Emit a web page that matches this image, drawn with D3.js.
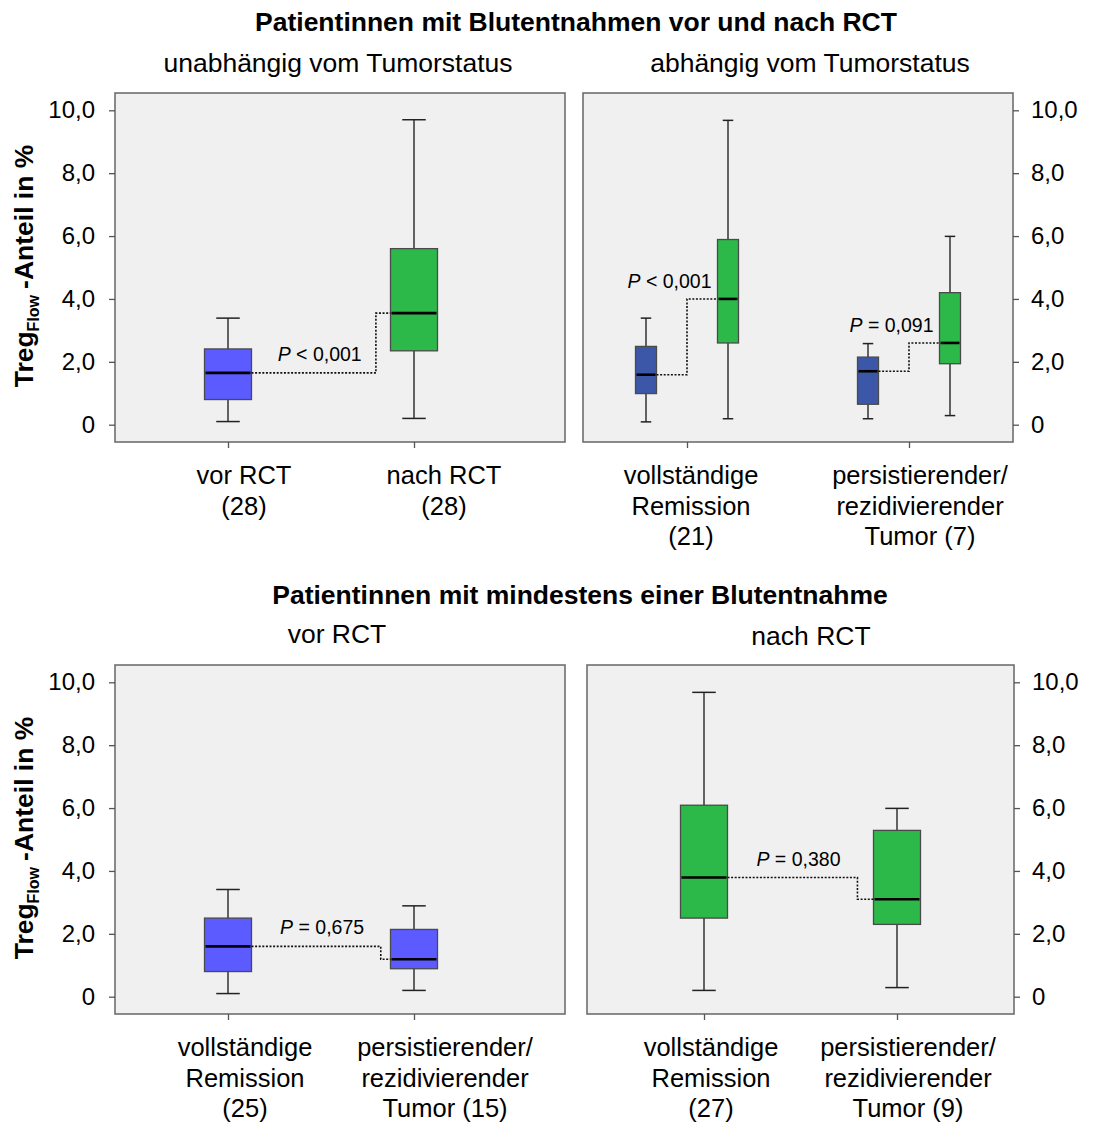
<!DOCTYPE html>
<html>
<head>
<meta charset="utf-8">
<script src="https://cdn.jsdelivr.net/npm/d3@7"></script>
<style>
body { margin: 0; background: #fff; }
text { font-family: "Liberation Sans", Arial, sans-serif; fill: #000; }
</style>
</head>
<body>
<div id="chart"></div>
<script>
var w = 1100,
    h = 1122;

// y axis
var yTicks = [0, 2, 4, 6, 8, 10];
var yTickLabels = ["0", "2,0", "4,0", "6,0", "8,0", "10,0"];

// box stats: [lower whisker, Q1, median, Q3, upper whisker]
// panel 1: vor / nach RCT, independent of tumour status
var p1Labels = [["vor RCT", "(28)"], ["nach RCT", "(28)"]];
var p1Stats = [[0.10, 0.80, 1.65, 2.41, 3.39], [0.20, 2.35, 3.55, 5.60, 9.70]];
var p1P = ["< 0,001"];

// panel 2: by tumour status, vor and nach RCT
var p2Labels = [["vollständige", "Remission", "(21)"], ["persistierender/", "rezidivierender", "Tumor (7)"]];
var p2Vor = [[0.09, 0.99, 1.59, 2.49, 3.39], [0.19, 0.65, 1.70, 2.15, 2.58]];
var p2Nach = [[0.19, 2.60, 4.00, 5.89, 9.68], [0.29, 1.94, 2.60, 4.20, 5.99]];
var p2P = ["< 0,001", "= 0,091"];

// panel 3: at least one sample, vor RCT
var p3Labels = [["vollständige", "Remission", "(25)"], ["persistierender/", "rezidivierender", "Tumor (15)"]];
var p3Stats = [[0.10, 0.80, 1.60, 2.50, 3.41], [0.20, 0.89, 1.19, 2.14, 2.89]];
var p3P = ["= 0,675"];

// panel 4: at least one sample, nach RCT
var p4Labels = [["vollständige", "Remission", "(27)"], ["persistierender/", "rezidivierender", "Tumor (9)"]];
var p4Stats = [[0.20, 2.50, 3.79, 6.09, 9.68], [0.29, 2.30, 3.10, 5.29, 5.99]];
var p4P = ["= 0,380"];

var blue = "#5b5bff",
    darkBlue = "#3d57a8",
    green = "#2db84a";

var svg = d3.select("#chart")
    .append("svg")
    .attr("width", w)
    .attr("height", h);

// titles
function title(x, y, txt, bold) {
    svg.append("text")
        .attr("x", x).attr("y", y)
        .attr("text-anchor", "middle")
        .attr("font-size", "26.5px")
        .style("font-weight", bold ? "bold" : "normal")
        .text(txt);
}
title(576, 31, "Patientinnen mit Blutentnahmen vor und nach RCT", true);
title(338, 72, "unabhängig vom Tumorstatus");
title(810, 72, "abhängig vom Tumorstatus");
title(580, 604, "Patientinnen mit mindestens einer Blutentnahme", true);
title(337, 643, "vor RCT");
title(811, 645, "nach RCT");

// y axis titles
[266, 838].forEach(function(cy) {
    var t = svg.append("text")
        .attr("transform", "translate(33," + cy + ") rotate(-90)")
        .attr("text-anchor", "middle")
        .attr("font-size", "26.5px")
        .style("font-weight", "bold");
    t.append("tspan").text("Treg");
    t.append("tspan").attr("font-size", "16px").attr("dy", 6).text("Flow");
    t.append("tspan").attr("dy", -6).attr("dx", 6).text("-Anteil in %");
});

function drawPanel(p) {
    var g = svg.append("g");
    var y = d3.scaleLinear().domain([-0.55, 10.55]).range([p.bottom, p.top]);
    var x = d3.scalePoint().domain(d3.range(p.labels.length)).range(p.xRange);

    g.append("rect")
        .attr("x", p.left).attr("y", p.top)
        .attr("width", p.right - p.left).attr("height", p.bottom - p.top)
        .attr("fill", "#f0f0f0")
        .attr("stroke", "#666")
        .attr("stroke-width", 1.5);

    var yAxis = (p.side == "left" ? d3.axisLeft(y) : d3.axisRight(y))
        .tickValues(yTicks)
        .tickFormat(function(d, i) { return yTickLabels[i]; })
        .tickSize(6)
        .tickPadding(p.side == "left" ? 14 : 12);
    var ya = g.append("g")
        .attr("transform", "translate(" + (p.side == "left" ? p.left : p.right) + ",0)")
        .call(yAxis);
    ya.select(".domain").remove();
    ya.selectAll("line").attr("stroke", "#555").attr("stroke-width", 1.3);
    ya.selectAll("text").attr("font-size", "24px").attr("font-family", null);

    var xa = g.append("g")
        .attr("transform", "translate(0," + p.bottom + ")")
        .call(d3.axisBottom(x).tickSize(6).tickFormat(""));
    xa.select(".domain").remove();
    xa.selectAll("line").attr("stroke", "#555").attr("stroke-width", 1.3);

    // category labels
    p.labels.forEach(function(lines, i) {
        var t = g.append("text")
            .attr("text-anchor", "middle")
            .attr("font-size", "25.5px");
        lines.forEach(function(s, j) {
            t.append("tspan")
                .attr("x", x(i) + p.labelDx[i])
                .attr("y", p.bottom + 42 + j * 30.5)
                .text(s);
        });
    });

    // boxes: one entry per category and series
    var boxes = [];
    p.series.forEach(function(s, si) {
        s.stats.forEach(function(st, i) {
            boxes.push({ cx: x(i) + s.off, st: st, color: s.colors[i], cat: i, series: si });
        });
    });
    var bw = p.bw, cw = p.bw / 2;

    var b = g.selectAll(".box")
        .data(boxes)
        .enter()
        .append("g")
        .attr("class", "box");
    b.append("line")
        .attr("x1", function(d) { return d.cx; })
        .attr("x2", function(d) { return d.cx; })
        .attr("y1", function(d) { return y(d.st[0]); })
        .attr("y2", function(d) { return y(d.st[4]); })
        .attr("stroke", "#333").attr("stroke-width", 1.5);
    [0, 4].forEach(function(k) {
        b.append("line")
            .attr("x1", function(d) { return d.cx - cw / 2; })
            .attr("x2", function(d) { return d.cx + cw / 2; })
            .attr("y1", function(d) { return y(d.st[k]); })
            .attr("y2", function(d) { return y(d.st[k]); })
            .attr("stroke", "#222").attr("stroke-width", 1.5);
    });
    b.append("rect")
        .attr("x", function(d) { return d.cx - bw / 2; })
        .attr("width", bw)
        .attr("y", function(d) { return y(d.st[3]); })
        .attr("height", function(d) { return y(d.st[1]) - y(d.st[3]); })
        .attr("fill", function(d) { return d.color; })
        .attr("stroke", "#4a4a4a").attr("stroke-width", 1.3);
    b.append("line")
        .attr("x1", function(d) { return d.cx - bw / 2 + 1; })
        .attr("x2", function(d) { return d.cx + bw / 2 - 1; })
        .attr("y1", function(d) { return y(d.st[2]); })
        .attr("y2", function(d) { return y(d.st[2]); })
        .attr("stroke", "#000").attr("stroke-width", 2.6);

    // dotted connectors with P values
    var pairs;
    if (p.series.length == 1) {
        pairs = [[boxes[0], boxes[1]]];
    } else {
        pairs = p.labels.map(function(l, i) {
            return [boxes[i], boxes[i + p.labels.length]];
        });
    }
    pairs.forEach(function(pr, k) {
        var a = pr[0], c = pr[1];
        var x0 = a.cx + bw / 2, x1 = c.cx - bw / 2;
        var sx = x0 + p.stepFrac * (x1 - x0);
        var y0 = y(a.st[2]), y1 = y(c.st[2]);
        g.append("path")
            .attr("d", d3.line()([[x0, y0], [sx, y0], [sx, y1], [x1, y1]]))
            .attr("fill", "none")
            .attr("stroke", "#111")
            .attr("stroke-width", 1.6)
            .attr("stroke-dasharray", "2,1.6");
        var t = g.append("text").attr("font-size", "19.5px");
        if (p.pAbove == "right") {
            t.attr("text-anchor", "end").attr("x", x1 - 6).attr("y", y1 - 11);
        } else {
            t.attr("text-anchor", "middle").attr("x", (x0 + sx) / 2 + 6).attr("y", y0 - 12);
        }
        t.append("tspan").style("font-style", "italic").text("P");
        t.append("tspan").text(" " + p.pValues[k]);
    });
}

// panel layout (positions only; values come from the arrays above)
drawPanel({
    left: 115, right: 565, top: 93, bottom: 442, side: "left",
    xRange: [228, 414], bw: 47, labels: p1Labels, labelDx: [16, 30],
    stepFrac: 0.895, pAbove: "left", pValues: p1P,
    series: [{ stats: p1Stats, off: 0, colors: [blue, green] }]
});
drawPanel({
    left: 583, right: 1013, top: 93, bottom: 442, side: "right",
    xRange: [687, 909], bw: 21, labels: p2Labels, labelDx: [4, 11],
    stepFrac: 0.5, pAbove: "right", pValues: p2P,
    series: [{ stats: p2Vor, off: -41, colors: [darkBlue, darkBlue] },
             { stats: p2Nach, off: 41, colors: [green, green] }]
});
drawPanel({
    left: 115, right: 565, top: 665, bottom: 1014, side: "left",
    xRange: [228, 414], bw: 47, labels: p3Labels, labelDx: [17, 31],
    stepFrac: 0.93, pAbove: "left", pValues: p3P,
    series: [{ stats: p3Stats, off: 0, colors: [blue, blue] }]
});
drawPanel({
    left: 587, right: 1014, top: 665, bottom: 1014, side: "right",
    xRange: [704, 897], bw: 47, labels: p4Labels, labelDx: [7, 11],
    stepFrac: 0.89, pAbove: "left", pValues: p4P,
    series: [{ stats: p4Stats, off: 0, colors: [green, green] }]
});
</script>
</body>
</html>
